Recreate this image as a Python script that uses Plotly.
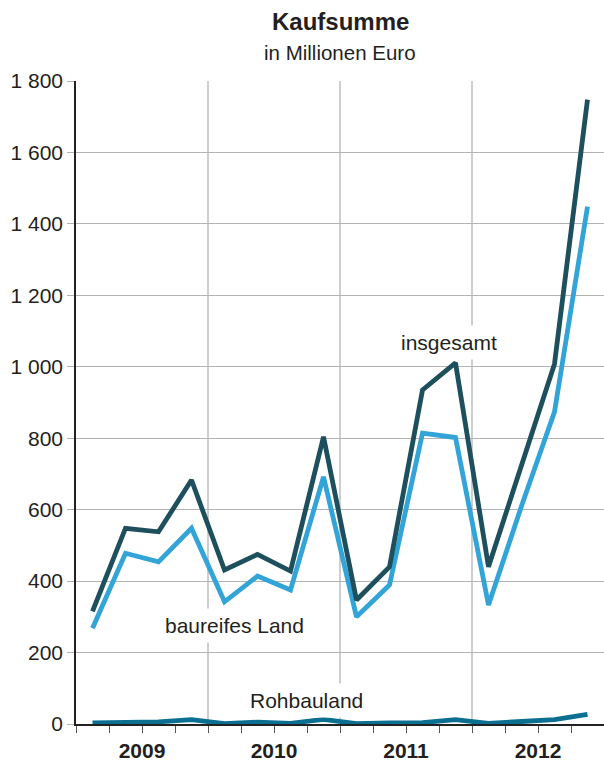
import plotly.graph_objects as go

quarters = list(range(16))
year_labels = ["2009", "2010", "2011", "2012"]
insgesamt = [315, 548, 538, 683, 431, 475, 428, 804, 347, 440, 935, 1011, 440, 720, 1008, 1748]
baureifes_land = [268, 478, 454, 548, 342, 414, 375, 692, 300, 389, 814, 802, 333, 610, 874, 1448]
rohbauland = [3, 5, 6, 12, 1, 5, 2, 13, 1, 3, 4, 12, 2, 7, 12, 27]
y_ticks = [0, 200, 400, 600, 800, 1000, 1200, 1400, 1600, 1800]
y_ticktext = ["0", "200", "400", "600", "800", "1 000", "1 200", "1 400", "1 600", "1 800"]

FONT = "Liberation Sans, Arial, Helvetica, sans-serif"
TXT = "#231f20"
GRID = "#b3b3b3"
FS = 21

fig = go.Figure()
fig.add_trace(go.Scatter(x=quarters, y=baureifes_land, mode="lines",
                         line=dict(color="#33a4d7", width=4.8), cliponaxis=False))
fig.add_trace(go.Scatter(x=quarters, y=insgesamt, mode="lines",
                         line=dict(color="#1d4f5d", width=4.8), cliponaxis=False))
fig.add_trace(go.Scatter(x=quarters, y=rohbauland, mode="lines",
                         line=dict(color="#0b6f92", width=4.8), cliponaxis=False))

for xv in [3.5, 7.5, 11.5]:
    fig.add_shape(type="line", xref="x", yref="paper", x0=xv, x1=xv, y0=0, y1=1,
                  line=dict(color=GRID, width=1.3), layer="below")

fig.update_layout(
    width=604, height=763,
    margin=dict(l=76, r=0, t=81, b=39),
    paper_bgcolor="white", plot_bgcolor="white",
    showlegend=False,
    font=dict(family=FONT, color=TXT, size=FS),
    xaxis=dict(
        range=[-0.5, 15.5], automargin=False,
        tickvals=[1.5, 5.5, 9.5, 13.5],
        ticktext=year_labels,
        tickfont=dict(family=FONT, size=FS, color=TXT, weight="bold"),
        ticks="outside", ticklen=7, tickcolor="#555", tickwidth=1,
        minor=dict(dtick=1, tick0=-0.5, ticks="outside", ticklen=7, tickcolor="#555", tickwidth=1),
        showgrid=False, zeroline=False,
        showline=True, linecolor="#222", linewidth=1.6,
        layer="below traces",
    ),
    yaxis=dict(
        range=[0, 1800], automargin=False,
        tickvals=y_ticks, ticktext=y_ticktext,
        tickfont=dict(family=FONT, size=FS, color=TXT),
        ticks="outside", ticklen=7, tickcolor=GRID, tickwidth=1.3,
        showgrid=True, gridcolor=GRID, gridwidth=1.3,
        zeroline=False,
        showline=True, linecolor="#222", linewidth=1.6,
        layer="below traces",
    ),
    annotations=[
        dict(text="<b>Kaufsumme</b>", xref="paper", yref="paper", x=0.5, y=1.092,
             xanchor="center", yanchor="middle", showarrow=False,
             font=dict(family=FONT, size=24, color=TXT)),
        dict(text="in Millionen Euro", xref="paper", yref="paper", x=0.5, y=1.045,
             xanchor="center", yanchor="middle", showarrow=False,
             font=dict(family=FONT, size=20.5, color=TXT)),
        dict(text="insgesamt", x=10.8, y=1067, xref="x", yref="y", showarrow=False,
             bgcolor="white", borderpad=5, font=dict(family=FONT, size=FS, color=TXT)),
        dict(text="baureifes Land", x=4.3, y=277, xref="x", yref="y", showarrow=False,
             bgcolor="white", borderpad=5, font=dict(family=FONT, size=FS, color=TXT)),
        dict(text="Rohbauland", x=6.48, y=67, xref="x", yref="y", showarrow=False,
             bgcolor="white", borderpad=5, font=dict(family=FONT, size=FS, color=TXT)),
    ],
)

fig.write_html("out.html", config={"displayModeBar": False},
               post_script="document.body.style.margin='0';document.body.style.overflow='hidden';")
